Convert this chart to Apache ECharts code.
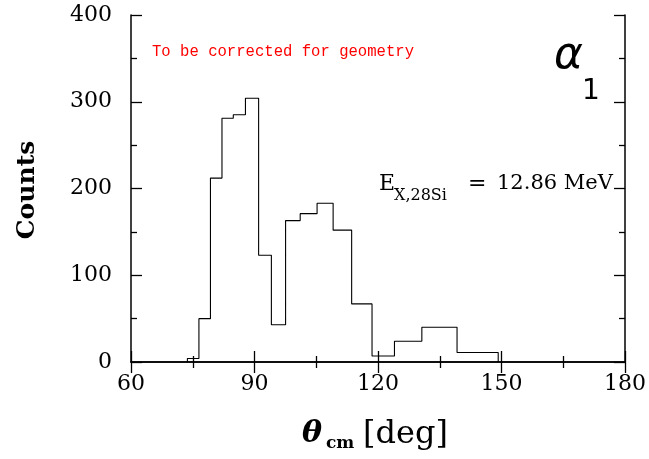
<!DOCTYPE html>
<html>
<head>
<meta charset="utf-8">
<script src="https://cdn.jsdelivr.net/npm/echarts@6/dist/echarts.min.js"></script>
<style>
html,body{margin:0;padding:0;background:#fff;}
#c{width:649px;height:459px;}
</style>
</head>
<body>
<div id="c"></div>
<script>
// Histogram bin edges (theta_cm, deg) and counts per bin
const binEdges = [73.7, 76.5, 79.3, 82.1, 84.85, 87.8, 91.0, 94.1, 97.55, 101.1, 105.2, 109.1, 113.6, 118.55, 124.0, 130.65, 139.2, 149.2];
const counts = [4, 50, 212, 281, 285, 304, 123, 43, 163, 171, 183, 152, 67, 7, 24, 40, 11];
const xTicks = [60, 90, 120, 150, 180];
const yTicks = [0, 100, 200, 300, 400];

// step outline of histogram
const stepPts = [[binEdges[0], 0]];
for (let i = 0; i < counts.length; i++) {
  stepPts.push([binEdges[i], counts[i]]);
  stepPts.push([binEdges[i + 1], counts[i]]);
}
stepPts.push([binEdges[binEdges.length - 1], 0]);

const chart = echarts.init(document.getElementById('c'), null, {renderer: 'canvas'});
const lbl = {fontFamily: 'DejaVu Serif', fontSize: 22, color: '#000'};
const axLine = {show: true, lineStyle: {color: '#000', width: 1.5}};
const tick = {show: true, inside: true, length: 11, lineStyle: {color: '#000', width: 1.3}};
const minor = {show: true, splitNumber: 2, length: 6, lineStyle: {color: '#000', width: 1.3}};

chart.setOption({
  animation: false,
  backgroundColor: '#fff',
  grid: {left: 131, right: 22, top: 15, bottom: 97, containLabel: false},
  xAxis: [
    {type: 'value', min: xTicks[0], max: xTicks[xTicks.length - 1], interval: 30, position: 'bottom',
     axisLine: axLine, axisTick: tick, minorTick: minor, splitLine: {show: false},
     axisLabel: Object.assign({margin: 11}, lbl)},
    {type: 'value', min: xTicks[0], max: xTicks[xTicks.length - 1], interval: 30, position: 'top',
     axisLine: axLine, axisTick: tick, minorTick: minor, splitLine: {show: false},
     axisLabel: {show: false}}
  ],
  yAxis: [
    {type: 'value', min: yTicks[0], max: yTicks[yTicks.length - 1], interval: 100, position: 'left',
     axisLine: axLine, axisTick: tick, minorTick: minor, splitLine: {show: false},
     axisLabel: Object.assign({margin: 19}, lbl)},
    {type: 'value', min: yTicks[0], max: yTicks[yTicks.length - 1], interval: 100, position: 'right',
     axisLine: axLine, axisTick: tick, minorTick: minor, splitLine: {show: false},
     axisLabel: {show: false}}
  ],
  series: [{
    type: 'line', data: stepPts, symbol: 'none', xAxisIndex: 0, yAxisIndex: 0,
    lineStyle: {color: '#000', width: 1.1}
  }],
  graphic: [
    {type: 'text', x: 152, y: 52, style: {text: 'To be corrected for geometry', font: '15.6px "Liberation Mono"', fill: '#ff0000', textVerticalAlign: 'middle'}},
    {type: 'text', x: 554, y: 57, style: {text: 'α', font: 'italic 44px "DejaVu Sans"', fill: '#000', textVerticalAlign: 'middle'}},
    {type: 'text', x: 582, y: 92, style: {text: '1', font: '28px "DejaVu Sans"', fill: '#000', textVerticalAlign: 'middle'}},
    {type: 'text', x: 379, y: 184, style: {text: 'E', font: '22px "DejaVu Serif"', fill: '#000', textVerticalAlign: 'middle'}},
    {type: 'text', x: 394, y: 196, style: {text: 'X,28Si', font: '16px "DejaVu Serif"', fill: '#000', textVerticalAlign: 'middle'}},
    {type: 'text', x: 468, y: 184, style: {text: '=', font: '22px "DejaVu Serif"', fill: '#000', textVerticalAlign: 'middle'}},
    {type: 'text', x: 497, y: 184, style: {text: '12.86 MeV', font: '21px "DejaVu Serif"', fill: '#000', textVerticalAlign: 'middle'}},
    {type: 'text', x: 302, y: 434, style: {text: 'θ', font: 'italic bold 30px "DejaVu Serif"', fill: '#000', textVerticalAlign: 'middle'}},
    {type: 'text', x: 326, y: 444, style: {text: 'cm', font: 'bold 17px "DejaVu Serif"', fill: '#000', textVerticalAlign: 'middle'}},
    {type: 'text', x: 363, y: 435, style: {text: '[deg]', font: '32px "DejaVu Serif"', fill: '#000', textVerticalAlign: 'middle'}},
    {type: 'text', x: 27, y: 190, rotation: Math.PI / 2, style: {text: 'Counts', font: 'bold 25px "DejaVu Serif"', fill: '#000', textAlign: 'center', textVerticalAlign: 'middle'}}
  ]
});
</script>
</body>
</html>
